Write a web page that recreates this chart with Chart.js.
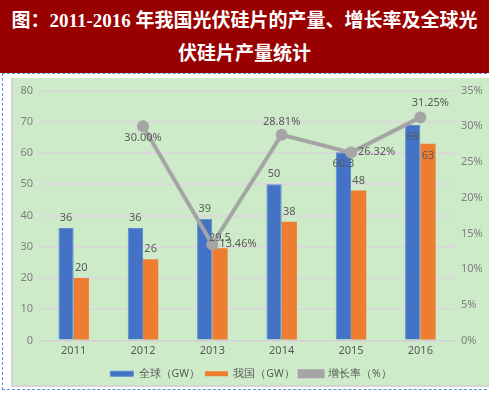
<!DOCTYPE html>
<html lang="zh">
<head>
<meta charset="utf-8">
<title>光伏硅片产量</title>
<script src="https://cdn.jsdelivr.net/npm/chart.js"></script>
<style>
	body { margin: 0; background: #ffffff; width: 489px; height: 394px; position: relative; overflow: hidden; }
	#title {
		position: absolute; left: 0; top: 0; width: 489px; height: 73px;
		background: #990000; color: #ffffff; text-align: center;
		font-family: "Liberation Serif", "Noto Sans CJK SC", serif; font-weight: bold;
		font-size: 19px; line-height: 33px; padding-top: 4px; box-sizing: border-box;
	}
	#frame {
		position: absolute; left: 2px; top: 73px; width: 490px; height: 317px;
		border: 1px dashed #5b8fd6; box-sizing: border-box;
	}
	#panel {
		position: absolute; left: 11px; top: 78px; width: 478px; height: 309px;
		background: #cdebc8; border-left: 2px solid #d4d4d4; border-bottom: 2px solid #d4d4d4;
		box-sizing: border-box;
	}
	#myChart { display: block; }
</style>
</head>
<body>
	<div id="title">图：2011-2016 年我国光伏硅片的产量、增长率及全球光<br>伏硅片产量统计</div>
	<div id="frame"></div>
	<div id="panel"><canvas id="myChart" width="476" height="307"></canvas></div>

<script>
	const years = ['2011', '2012', '2013', '2014', '2015', '2016'];
	const globalGW = [36, 36, 39, 50, 60.3, 69];
	const chinaGW = [20, 26, 29.5, 38, 48, 63];
	const growthRate = [null, 30.00, 13.46, 28.81, 26.32, 31.25];

	// label placement: growth labels next to points, bar labels inside the top where crowded
	const rateLabelPos = [null, 'below', 'right', 'above', 'right', 'aboveRight'];
	const globalInside = [false, false, false, false, true, true];
	const chinaInside = [false, false, false, false, false, true];

	const labelFont = '11px "Noto Sans", sans-serif';
	const textGray = '#595959';

	const valueLabels = {
		id: 'valueLabels',
		afterDatasetsDraw(chart) {
			const ctx = chart.ctx;
			ctx.save();
			ctx.font = labelFont;
			ctx.fillStyle = textGray;
			chart.data.datasets.forEach((ds, i) => {
				const meta = chart.getDatasetMeta(i);
				meta.data.forEach((el, j) => {
					const v = ds.data[j];
					if (v === null) return;
					if (ds.type === 'line') {
						const txt = v.toFixed(2) + '%';
						const pos = rateLabelPos[j];
						ctx.textBaseline = 'middle';
						if (pos === 'below') { ctx.textAlign = 'center'; ctx.fillText(txt, el.x, el.y + 12); }
						else if (pos === 'above') { ctx.textAlign = 'center'; ctx.fillText(txt, el.x, el.y - 13); }
						else if (pos === 'aboveRight') { ctx.textAlign = 'center'; ctx.fillText(txt, el.x + 10, el.y - 15); }
						else { ctx.textAlign = 'left'; ctx.fillText(txt, el.x + 7, el.y - 1); }
					} else {
						const inside = (i === 0 ? globalInside : chinaInside)[j];
						ctx.textAlign = 'center';
						ctx.textBaseline = 'middle';
						ctx.fillText(String(v), el.x, inside ? el.y + 12 : el.y - 10);
					}
				});
			});
			ctx.restore();
		}
	};

	const canvas_chart = document.getElementById('myChart');

	const myChart = new Chart(canvas_chart, {
		data: {
			labels: years,
			datasets: [
				{
					type: 'bar', label: '全球（GW）', data: globalGW,
					backgroundColor: '#4472c4', borderColor: '#5b8ad6', borderWidth: 1,
					yAxisID: 'y', order: 1,
					categoryPercentage: 0.44, barPercentage: 1.0
				},
				{
					type: 'bar', label: '我国（GW）', data: chinaGW,
					backgroundColor: '#ed7d31', borderColor: '#ed7d31', borderWidth: 0,
					yAxisID: 'y', order: 1,
					categoryPercentage: 0.44, barPercentage: 1.0
				},
				{
					type: 'line', label: '增长率（%）', data: growthRate,
					borderColor: '#a5a5a5', backgroundColor: '#a5a5a5', borderWidth: 4,
					pointRadius: 6, pointBackgroundColor: '#a5a5a5', pointBorderWidth: 0,
					yAxisID: 'y1', order: 0, spanGaps: false, tension: 0
				}
			]
		},
		options: {
			responsive: false,
			animation: false,
			devicePixelRatio: 1,
			layout: { padding: { top: 10, left: 0, right: 0, bottom: -4 } },
			plugins: {
				tooltip: { enabled: false },
				legend: {
					position: 'bottom',
					labels: {
						boxWidth: 23, boxHeight: 5, padding: 5,
						color: textGray,
						font: { family: '"Noto Sans", sans-serif', size: 10.5 },
						sort: (a, b) => a.datasetIndex - b.datasetIndex
					}
				}
			},
			scales: {
				x: {
					grid: { display: false, drawTicks: false },
					border: { color: '#d0d0d0', width: 1 },
					ticks: { color: textGray, font: { family: '"Noto Sans", sans-serif', size: 11 }, padding: 4 },
					afterFit(scale) { scale.height = 23; }
				},
				y: {
					position: 'left', min: 0, max: 80,
					ticks: { stepSize: 10, color: '#7f7f7f', font: { family: '"Noto Sans", sans-serif', size: 11 }, padding: 6 },
					grid: { color: '#d9d9d9', lineWidth: 2, drawTicks: false },
					border: { display: false },
					afterFit(scale) { scale.width = 26; }
				},
				y1: {
					position: 'right', min: 0, max: 35,
					ticks: { stepSize: 5, color: '#7f7f7f', font: { family: '"Noto Sans", sans-serif', size: 11 }, padding: 6,
						callback: v => v + '%' },
					grid: { display: false, drawTicks: false },
					border: { display: false },
					afterFit(scale) { scale.width = 34; }
				}
			}
		},
		plugins: [valueLabels]
	});
</script>
</body>
</html>
